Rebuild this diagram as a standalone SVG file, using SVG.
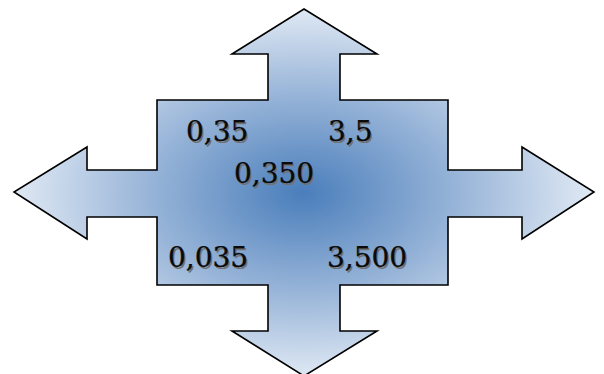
<svg xmlns="http://www.w3.org/2000/svg" width="604" height="374" viewBox="0 0 604 374">
  <defs>
    <radialGradient id="g" gradientUnits="userSpaceOnUse" cx="0" cy="0" r="1" gradientTransform="translate(303,193) scale(290,185)">
      <stop offset="0" stop-color="#4a7ebb"/>
      <stop offset="0.55" stop-color="#9ab6d9"/>
      <stop offset="1" stop-color="#e0e9f4"/>
    </radialGradient>
  </defs>
  <style>
    .shape { fill: url(#g); stroke: #000; stroke-width: 1.6; stroke-linejoin: miter; }
    .t { font-family: "DejaVu Serif", "Liberation Serif", serif; font-size: 28px; }
    .sh { fill: #707070; }
    .fg { fill: #0a0a0a; stroke: #0a0a0a; stroke-width: 0.25; }
  </style>
  <rect width="604" height="374" fill="#ffffff"/>
  <g id="quad-arrow">
    <path class="shape" d="M304,9 L377,54 L340,54 L340,100 L448,100 L448,170 L522,170 L522,147 L594,192 L522,239 L522,217 L448,217 L448,285 L340,285 L340,331 L377,331 L304,376 L232,331 L268,331 L268,285 L157,285 L157,217 L87,217 L87,239 L14,192 L87,147 L87,170 L157,170 L157,100 L268,100 L268,54 L232,54 Z"/>
  </g>
  <g id="label-0-35">
    <text class="t sh" x="187.5" y="142.5">0,35</text>
    <text class="t fg" x="186" y="141">0,35</text>
  </g>
  <g id="label-3-5">
    <text class="t sh" x="329.5" y="142.5">3,5</text>
    <text class="t fg" x="328" y="141">3,5</text>
  </g>
  <g id="label-0-350">
    <text class="t sh" x="235.5" y="184.5">0,350</text>
    <text class="t fg" x="234" y="183">0,350</text>
  </g>
  <g id="label-0-035">
    <text class="t sh" x="169.5" y="268.5">0,035</text>
    <text class="t fg" x="168" y="267">0,035</text>
  </g>
  <g id="label-3-500">
    <text class="t sh" x="328.5" y="268.5">3,500</text>
    <text class="t fg" x="327" y="267">3,500</text>
  </g>
</svg>
